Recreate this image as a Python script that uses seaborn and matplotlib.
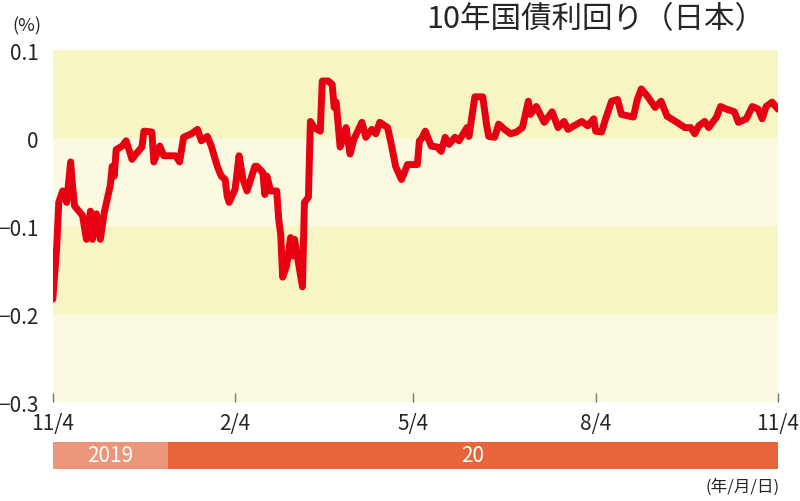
import pandas as pd
import numpy as np
import seaborn as sns
import matplotlib.pyplot as plt

# 10-year JGB yield
dates = [
    "2019-11-04", "2019-11-06", "2019-11-07", "2019-11-09", "2019-11-11", "2019-11-13",
    "2019-11-14", "2019-11-15", "2019-11-19", "2019-11-21", "2019-11-23", "2019-11-24",
    "2019-11-26", "2019-11-28", "2019-11-30", "2019-12-03", "2019-12-04", "2019-12-05",
    "2019-12-06", "2019-12-09", "2019-12-11", "2019-12-14", "2019-12-16", "2019-12-19",
    "2019-12-20", "2019-12-24", "2019-12-25", "2019-12-28", "2019-12-30", "2020-01-05",
    "2020-01-07", "2020-01-09", "2020-01-13", "2020-01-16", "2020-01-18", "2020-01-21",
    "2020-01-23", "2020-01-26", "2020-01-28", "2020-01-30", "2020-01-31", "2020-02-01",
    "2020-02-04", "2020-02-06", "2020-02-08", "2020-02-10", "2020-02-14", "2020-02-15",
    "2020-02-18", "2020-02-19", "2020-02-20", "2020-02-22", "2020-02-25", "2020-02-26",
    "2020-02-27", "2020-02-28", "2020-03-01", "2020-03-03", "2020-03-04", "2020-03-05",
    "2020-03-09", "2020-03-10", "2020-03-12", "2020-03-13", "2020-03-15", "2020-03-18",
    "2020-03-19", "2020-03-22", "2020-03-24", "2020-03-25", "2020-03-26", "2020-03-28",
    "2020-03-30", "2020-03-31", "2020-04-02", "2020-04-04", "2020-04-08", "2020-04-10",
    "2020-04-13", "2020-04-15", "2020-04-17", "2020-04-21", "2020-04-23", "2020-04-25",
    "2020-04-28", "2020-05-01", "2020-05-06", "2020-05-07", "2020-05-08", "2020-05-10",
    "2020-05-13", "2020-05-16", "2020-05-18", "2020-05-20", "2020-05-22", "2020-05-25",
    "2020-05-27", "2020-05-31", "2020-06-01", "2020-06-04", "2020-06-08", "2020-06-10",
    "2020-06-11", "2020-06-14", "2020-06-16", "2020-06-19", "2020-06-22", "2020-06-25",
    "2020-06-28", "2020-07-01", "2020-07-02", "2020-07-05", "2020-07-09", "2020-07-13",
    "2020-07-16", "2020-07-19", "2020-07-21", "2020-07-24", "2020-07-28", "2020-07-31",
    "2020-08-03", "2020-08-04", "2020-08-07", "2020-08-09", "2020-08-12", "2020-08-15",
    "2020-08-17", "2020-08-21", "2020-08-23", "2020-08-25", "2020-08-27", "2020-08-30",
    "2020-09-03", "2020-09-06", "2020-09-09", "2020-09-14", "2020-09-18", "2020-09-21",
    "2020-09-23", "2020-09-25", "2020-09-28", "2020-09-30", "2020-10-04", "2020-10-06",
    "2020-10-09", "2020-10-13", "2020-10-15", "2020-10-19", "2020-10-22", "2020-10-25",
    "2020-10-27", "2020-10-29", "2020-11-01", "2020-11-04",
]
yields = [
    -0.183, -0.123, -0.073, -0.060, -0.073, -0.027,
    -0.055, -0.077, -0.088, -0.115, -0.083, -0.115,
    -0.086, -0.115, -0.084, -0.054, -0.032, -0.043,
    -0.013, -0.009, -0.003, -0.024, -0.018, -0.010,
    0.008, 0.007, -0.027, -0.009, -0.020, -0.020,
    -0.027, 0.001, 0.005, 0.010, -0.003, 0.002,
    -0.009, -0.032, -0.043, -0.047, -0.066, -0.073,
    -0.058, -0.020, -0.047, -0.060, -0.032, -0.032,
    -0.039, -0.064, -0.043, -0.060, -0.060, -0.092,
    -0.109, -0.158, -0.145, -0.113, -0.134, -0.115,
    -0.169, -0.073, -0.067, 0.019, 0.012, 0.008,
    0.065, 0.065, 0.061, 0.035, 0.041, -0.010,
    0.002, 0.012, -0.018, -0.001, 0.018, 0.001,
    0.010, 0.005, 0.018, 0.012, -0.009, -0.032,
    -0.047, -0.030, -0.030, -0.003, -0.001, 0.008,
    -0.009, -0.010, -0.015, 0.001, -0.007, 0.001,
    -0.003, 0.012, 0.002, 0.047, 0.047, 0.014,
    0.002, 0.001, 0.016, 0.010, 0.005, 0.007,
    0.012, 0.042, 0.027, 0.036, 0.018, 0.030,
    0.012, 0.019, 0.010, 0.014, 0.019, 0.014,
    0.022, 0.008, 0.007, 0.022, 0.042, 0.044,
    0.027, 0.025, 0.024, 0.044, 0.056, 0.048,
    0.035, 0.042, 0.025, 0.018, 0.012, 0.012,
    0.005, 0.014, 0.019, 0.012, 0.024, 0.036,
    0.033, 0.030, 0.018, 0.022, 0.036, 0.033,
    0.022, 0.036, 0.041, 0.033,
]

xtick_dates = ["2019-11-04", "2020-02-04", "2020-05-04", "2020-08-04", "2020-11-04"]
xtick_labels = ["11/4", "2/4", "5/4", "8/4", "11/4"]
ytick_vals = [0.1, 0, -0.1, -0.2, -0.3]
ytick_labels = ["0.1", "0", "\u22120.1", "\u22120.2", "\u22120.3"]
year_labels = ["2019", "20"]
year_starts = ["2019-11-04", "2020-01-01"]
year_ends = ["2020-01-01", "2020-11-04"]

df = pd.DataFrame({"date": pd.to_datetime(dates), "yield": yields})

sns.set_style("white")
plt.rcParams["font.family"] = ["Noto Sans CJK JP", "DejaVu Sans"]

fig = plt.figure(figsize=(8, 5.02), dpi=100)
ax = fig.add_axes([0.066, 0.197, 0.9065, 0.701])

# alternating bands
band_cols = ["#f8f5c4", "#fbf9e0", "#f8f5c4", "#fbf9e0"]
for i, c in enumerate(band_cols):
    ax.axhspan(ytick_vals[i + 1], ytick_vals[i], color=c, lw=0, zorder=0)

sns.lineplot(data=df, x="date", y="yield", ax=ax, color="#e60012", linewidth=5,
             solid_capstyle="round", solid_joinstyle="round", zorder=3)

ax.set_xlim(pd.Timestamp(xtick_dates[0]), pd.Timestamp(xtick_dates[-1]))
ax.set_ylim(-0.3, 0.1)
ax.set_xticks(pd.to_datetime(xtick_dates))
ax.set_xticklabels(xtick_labels, fontsize=15)
ax.set_yticks(ytick_vals)
ax.set_yticklabels(ytick_labels, fontsize=15)
ax.tick_params(axis="x", bottom=True, direction="in", length=6.5, width=1,
               color="#777777", pad=7)
ax.tick_params(axis="y", left=False, length=0, pad=10)
ax.set_xlabel("")
ax.set_ylabel("")
for s in ax.spines.values():
    s.set_visible(False)

# year bar under the axis
ax2 = fig.add_axes([0.066, 0.064, 0.9065, 0.054], sharex=ax)
year_cols = ["#eb957a", "#e8643a"]
for lab, s, e, c in zip(year_labels, year_starts, year_ends, year_cols):
    s, e = pd.Timestamp(s), pd.Timestamp(e)
    ax2.barh(0, e - s, left=s, height=1, color=c, lw=0)
    ax2.text(s + (e - s) / 2, 0, lab, color="white", fontsize=15, ha="center", va="center")
ax2.set_ylim(-0.5, 0.5)
ax2.axis("off")

fig.text(0.957, 0.962, "10年国債利回り（日本）", fontsize=22, ha="right", va="center")
fig.text(0.015, 0.948, "(%)", fontsize=13, ha="left", va="center")
fig.text(0.975, 0.03, "(年/月/日)", fontsize=12, ha="right", va="center")

fig.savefig("out.png", dpi=100)
